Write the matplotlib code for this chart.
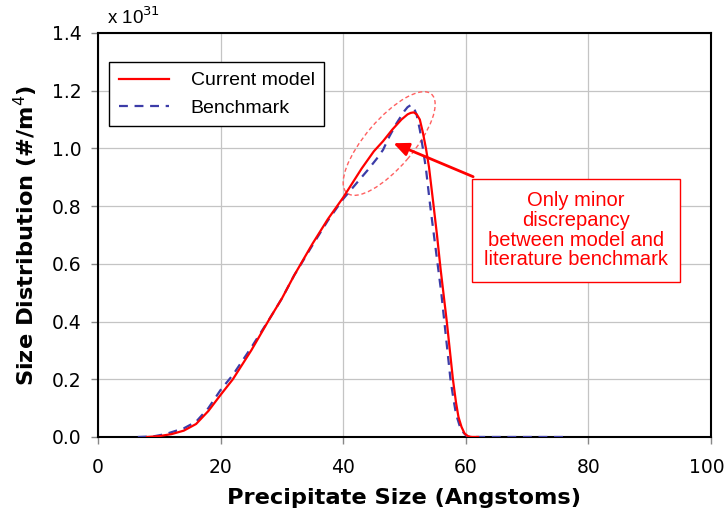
import matplotlib
matplotlib.use("Agg")
import matplotlib.pyplot as plt
from matplotlib.patches import Ellipse
from matplotlib.transforms import ScaledTranslation

# precipitate size (Angstroms) and size distribution (x 1e31 #/m^4)
model_x = [8, 10, 12, 14, 16, 18, 20, 22, 25, 28, 30, 32, 35, 37.5, 40, 43, 45,
           46.5, 48, 49.5, 50.5, 51, 51.5, 52, 52.5, 53, 53.5, 54, 54.7, 55.3,
           55.9, 56.4, 56.9, 57.4, 57.9, 58.4, 58.8, 59.3, 59.8, 60.4, 61, 62]
model_y = [0, .003, .01, .022, .045, .09, .146, .2, .3, .41, .48, .56, .67, .755,
           .83, .93, .99, 1.025, 1.065, 1.1, 1.118, 1.123, 1.125, 1.118, 1.1,
           1.055, 1.0, .935, .81, .7, .58, .49, .4, .3, .2, .12, .07, .035, .012,
           .002, 0, 0]

bench_x = [6.5, 9, 11, 14, 16, 18, 20, 22, 25, 28, 30, 32, 35, 37.5, 40, 42, 44,
           45.5, 46.5, 47.5, 48.7, 50, 50.5, 51, 51.5, 52, 52.5, 53, 53.5, 54.2,
           54.8, 55.4, 56, 56.5, 57, 57.5, 58, 58.4, 59.2, 60.2, 61, 65, 70, 76]
bench_y = [0, .002, .01, .03, .053, .1, .163, .215, .31, .41, .48, .56, .665, .75,
           .825, .875, .925, .965, .995, 1.04, 1.087, 1.13, 1.143, 1.15, 1.143,
           1.115, 1.065, 1.0, .93, .8, .7, .6, .5, .4, .3, .2, .13, .08, .025,
           .002, 0, 0, 0, 0]

x_ticks = [0, 20, 40, 60, 80, 100]
y_ticks = [0.0, 0.2, 0.4, 0.6, 0.8, 1.0, 1.2, 1.4]

note = "Only minor\ndiscrepancy\nbetween model and\nliterature benchmark"

fig = plt.figure(figsize=(7.26, 5.18), dpi=100)
ax = fig.add_axes([0.135, 0.1564, 0.8443, 0.7799])

ax.plot(model_x, model_y, color="#ff0000", lw=1.6, label="Current model",
        zorder=4, solid_joinstyle="round")
ax.plot(bench_x, bench_y, color="#3c3ca8", lw=1.6, ls=(0, (4, 3)),
        label="Benchmark", zorder=3)

ax.set_xlim(0, 100)
ax.set_ylim(0, 1.4)
ax.set_xticks(x_ticks)
ax.set_yticks(y_ticks)
ax.set_yticklabels([f"{v:.1f}" for v in y_ticks])
ax.grid(True, color="#c4c4c4", lw=0.9)
ax.set_axisbelow(True)
for s in ax.spines.values():
    s.set_linewidth(1.5)
ax.tick_params(direction="out", length=5, width=1, color="#888888",
               labelsize=13.5)
ax.tick_params(axis="x", pad=10)
ax.tick_params(axis="y", pad=7)
# last x label sits a little inside the figure edge
last = ax.get_xticklabels()[-1]
last.set_transform(last.get_transform() + ScaledTranslation(-0.045, 0, fig.dpi_scale_trans))

lab_font = dict(family="DejaVu Sans", weight="bold", size=16.2)
ax.set_xlabel("Precipitate Size (Angstoms)", labelpad=8, **lab_font)
ax.set_ylabel("Size Distribution (#/m$^4$)", labelpad=8, **lab_font)

ax.text(0.015, 1.012, "x 10$^{31}$", transform=ax.transAxes, ha="left",
        va="bottom", family="Liberation Sans", fontsize=13.5)

leg = ax.legend(loc="upper left", bbox_to_anchor=(0.018, 0.928), fancybox=False,
                edgecolor="black", framealpha=1,
                prop={"family": "Liberation Sans", "size": 14},
                handlelength=2.6, handletextpad=1.1, borderpad=0.5,
                labelspacing=0.5, borderaxespad=0)
leg.get_frame().set_linewidth(1.0)

# dashed ellipse around the peak, sized in inches
ell = Ellipse((0, 0), 1.30, 0.48, angle=49.5, fill=False, ec="#ff6060",
              lw=1.0, ls=(0, (3, 2)),
              transform=fig.dpi_scale_trans + ScaledTranslation(47.5, 1.017, ax.transData))
ax.add_patch(ell)

ax.annotate("", xy=(48.2, 1.018), xytext=(61.2, 0.902),
            arrowprops=dict(arrowstyle="-|>,head_length=0.9,head_width=0.4",
                            color="#ff0000", lw=2, shrinkA=0, shrinkB=0), zorder=6)

ax.text(78.0, 0.716, note, ha="center", va="center", color="#ff0000",
        family="Liberation Sans", fontsize=14.5, linespacing=1.05, zorder=7,
        bbox=dict(boxstyle="square,pad=0.6", fc="white", ec="#ff0000", lw=1))

fig.savefig("out.png", dpi=100)
